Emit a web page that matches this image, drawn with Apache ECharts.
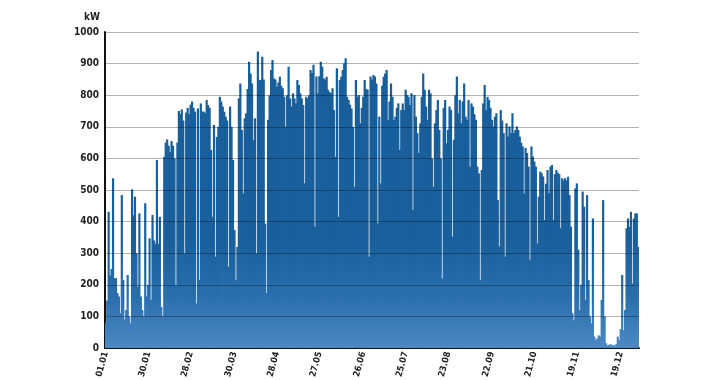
<!DOCTYPE html>
<html>
<head>
<meta charset="utf-8">
<script src="https://cdn.jsdelivr.net/npm/echarts@6/dist/echarts.min.js"></script>
<style>
html,body{margin:0;padding:0;background:#fff;}
#c{width:720px;height:380px;}
</style>
</head>
<body>
<div id="c"></div>
<script>
// Daily peak power (kW), one array per month
var jan = [80,150,431,230,250,537,221,221,174,163,110,484,215,90,120,231,100,78,502,420,479,300,194,426,163,120,100,458,163,200,347];
var feb = [152,421,340,330,595,330,415,130,100,605,650,660,640,620,655,640,600,199,650,750,740,755,720,300,745,760,740,770];
var mar = [780,760,748,141,758,215,774,748,748,743,785,769,760,627,415,706,289,668,700,795,780,764,748,732,720,257,764,700,595,373,215];
var apr = [320,790,837,690,489,727,743,820,906,869,837,658,727,300,938,848,848,922,850,394,174,722,800,880,911,853,850,827,840,858];
var may = [830,822,795,700,800,890,790,764,806,790,774,848,832,806,790,769,521,795,790,800,880,870,896,384,859,806,860,906,890,853,850];
var jun = [858,817,810,806,822,753,605,885,415,848,858,880,900,917,795,785,770,758,700,510,848,795,800,711,760,795,848,820,817,289];
var jul = [859,850,864,859,837,394,732,521,830,858,869,880,722,780,837,795,722,732,760,774,627,753,774,753,817,800,795,769,806,437,800];
var aug = [732,680,617,711,795,869,817,764,722,817,806,600,510,711,753,785,690,600,220,760,785,648,690,764,753,352,659,800,859,743,785];
var sep = [711,780,837,732,722,785,574,774,764,740,722,574,553,215,563,774,832,753,795,785,760,722,701,732,743,468,321,753,720,680];
var oct = [289,711,669,701,680,743,680,690,701,690,669,650,638,489,633,617,574,278,638,606,590,574,331,479,558,553,543,405,520,563,490];
var nov = [574,579,405,550,563,555,550,379,537,530,537,530,542,484,384,110,88,505,521,311,120,200,495,447,152,484,215,100,78,410];
var dec = [36,25,30,40,36,152,468,100,15,8,10,12,8,10,6,12,36,25,60,231,56,120,379,410,383,431,204,410,426,426,320];

var monthLengths = [31,28,31,30,31,30,31,31,30,31,30,31];
var tickLabels = ['01.01','30.01','28.02','30.03','28.04','27.05','26.06','25.07','23.08','22.09','21.10','19.11','19.12'];
var yTicks = [100,200,300,400,500,600,700,800,900,1000];

var values = [].concat(jan,feb,mar,apr,may,jun,jul,aug,sep,oct,nov,dec);
var categories = [];
for (var m = 0; m < 12; m++) {
  for (var d = 1; d <= monthLengths[m]; d++) {
    categories.push((d < 10 ? '0' : '') + d + '.' + (m < 9 ? '0' : '') + (m + 1));
  }
}

var FONT = '"DejaVu Sans Condensed", "Roboto", sans-serif';
var chart = echarts.init(document.getElementById('c'), null, {renderer: 'canvas'});
chart.setOption({
  animation: false,
  backgroundColor: '#ffffff',
  title: {
    text: 'kW', left: 84, top: 12, padding: 0,
    textStyle: {fontFamily: FONT, fontWeight: 'bold', fontSize: 10, color: '#222'}
  },
  grid: {left: 105, right: 81, top: 32, bottom: 32, containLabel: false, outerBoundsMode: 'none'},
  xAxis: {
    type: 'category',
    data: categories,
    boundaryGap: true,
    axisLine: {show: true, lineStyle: {color: '#111', width: 2}},
    axisTick: {show: false},
    splitLine: {show: false},
    axisLabel: {
      interval: function (idx, val) { return tickLabels.indexOf(val) >= 0; },
      rotate: 75,
      margin: 4,
      fontFamily: FONT,
      fontWeight: 'bold',
      fontSize: 9,
      color: '#222'
    }
  },
  yAxis: {
    type: 'value',
    min: 0, max: 1000, interval: 100,
    axisLine: {show: true, lineStyle: {color: '#111', width: 2}},
    axisTick: {show: false},
    splitLine: {show: false},
    axisLabel: {
      margin: 6, fontFamily: FONT, fontWeight: 'bold', fontSize: 10, color: '#222',
      formatter: function (v) { return String(v); }
    }
  },
  series: [{
    type: 'bar',
    data: values,
    barWidth: 2.2,
    itemStyle: {
      color: new echarts.graphic.LinearGradient(0, 32, 0, 348, [
        {offset: 0, color: '#175e9b'},
        {offset: 0.66, color: '#185f9c'},
        {offset: 0.84, color: '#2a6fad'},
        {offset: 1, color: '#4a88c3'}
      ], true)
    },
    markLine: {
      silent: true,
      symbol: ['none', 'none'],
      label: {show: false},
      lineStyle: {color: 'rgba(0,0,0,0.3)', type: 'solid', width: 1},
      data: yTicks.map(function (v) { return {yAxis: v}; }),
      z: 10
    }
  }]
});
</script>
</body>
</html>
